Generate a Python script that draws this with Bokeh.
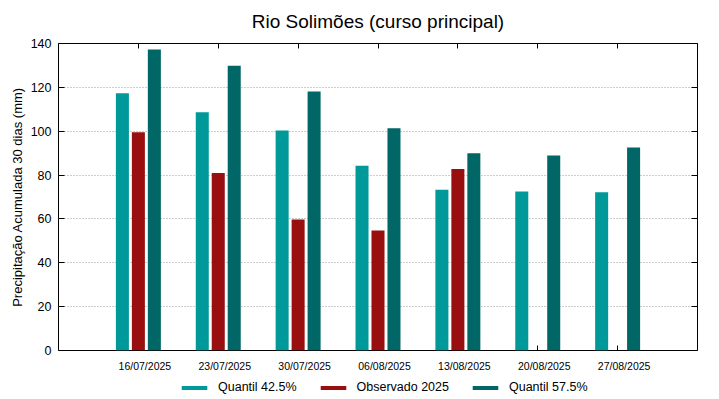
from bokeh.plotting import figure
from bokeh.layouts import column
from bokeh.models import (Range1d, LinearAxis, FixedTicker, Legend, LegendItem,
                          ColumnDataSource, Grid)
from bokeh.transform import dodge
from bokeh.embed import file_html
from bokeh.resources import INLINE

nan = float("nan")

dates = ["16/07/2025", "23/07/2025", "30/07/2025", "06/08/2025",
         "13/08/2025", "20/08/2025", "27/08/2025"]
quantil_425 = [117.3, 108.7, 100.3, 84.2, 73.3, 72.5, 72.2]
observado_2025 = [99.5, 81.0, 59.7, 54.7, 82.8, nan, nan]
quantil_575 = [137.3, 129.8, 118.1, 101.4, 90.0, 88.9, 92.6]
y_ticks = [0, 20, 40, 60, 80, 100, 120, 140]
series_names = ["Quantil 42.5%", "Observado 2025", "Quantil 57.5%"]

FONT = "Liberation Sans"
C_Q425 = "#009999"
C_OBS = "#990f0f"
C_Q575 = "#006666"
colors = [C_Q425, C_OBS, C_Q575]

pos = [i + 1 for i in range(len(dates))]
src = ColumnDataSource(dict(pos=pos, date=dates, q425=quantil_425,
                            obs=observado_2025, q575=quantil_575))

p = figure(x_range=Range1d(0, len(dates) + 1),
           y_range=Range1d(0, 140),
           frame_width=639, frame_height=307,
           min_border_left=58, min_border_right=22,
           min_border_top=43, min_border_bottom=27,
           x_axis_location=None, y_axis_location=None,
           output_backend="svg", toolbar_location=None,
           background_fill_color="white", border_fill_color="white")

p.title.text = "Rio Solimões (curso principal)"
p.title.align = "center"
p.title.vertical_align = "top"
p.title.text_font = FONT
p.title.text_font_size = "19px"
p.title.text_font_style = "normal"
p.title.text_color = "#000000"
p.title.standoff = 20

p.outline_line_color = "#000000"
p.outline_line_alpha = 1.0
p.outline_line_width = 1

# bars
w = 0.163
r1 = p.vbar(x=dodge("pos", -0.2), top="q425", width=w,
            source=src, fill_color=C_Q425, line_color=None)
r2 = p.vbar(x=dodge("pos", 0.0), top="obs", width=w,
            source=src, fill_color=C_OBS, line_color=None)
r3 = p.vbar(x=dodge("pos", 0.2), top="q575", width=w,
            source=src, fill_color=C_Q575, line_color=None)

# left axis
yl = LinearAxis(ticker=FixedTicker(ticks=y_ticks))
yl.axis_line_color = None
yl.major_tick_in = 6
yl.major_tick_out = 0
yl.minor_tick_line_color = None
yl.major_label_standoff = 7
yl.major_label_text_font = FONT
yl.major_label_text_font_size = "12.5px"
yl.major_label_text_color = "#000000"
yl.axis_label = "Precipitação Acumulada 30 dias (mm)"
yl.axis_label_text_font = FONT
yl.axis_label_text_font_size = "13px"
yl.axis_label_text_font_style = "normal"
yl.axis_label_text_color = "#000000"
yl.axis_label_standoff = 3
p.add_layout(yl, "left")

# right axis (ticks only)
yr = LinearAxis(ticker=FixedTicker(ticks=y_ticks),
                major_label_overrides={t: "" for t in y_ticks})
yr.axis_line_color = None
yr.major_tick_in = 6
yr.major_tick_out = 0
yr.minor_tick_line_color = None
yr.major_label_standoff = 0
p.add_layout(yr, "right")

# top axis (ticks only)
xt = LinearAxis(ticker=FixedTicker(ticks=pos),
                major_label_overrides={x: "" for x in pos})
xt.axis_line_color = None
xt.major_tick_in = 5
xt.major_tick_out = 0
xt.minor_tick_line_color = None
xt.major_label_standoff = 0
p.add_layout(xt, "above")

# bottom axis (ticks only, under the bars)
xb = LinearAxis(ticker=FixedTicker(ticks=pos), level="underlay",
                major_label_overrides={x: "" for x in pos})
xb.axis_line_color = None
xb.major_tick_in = 5
xb.major_tick_out = 0
xb.minor_tick_line_color = None
xb.major_label_text_font_size = "1px"
xb.major_label_standoff = 0
p.add_layout(xb, "below")

# bottom labels (slightly offset to the right, as in the original)
shift = 6.5 / 79.875
p.extra_x_ranges = {"lab": Range1d(0 - shift, len(dates) + 1 - shift)}
xlab = LinearAxis(x_range_name="lab", ticker=FixedTicker(ticks=pos),
                  major_label_overrides={x: d for x, d in zip(pos, dates)})
xlab.axis_line_color = None
xlab.major_tick_line_color = None
xlab.minor_tick_line_color = None
xlab.major_tick_in = 0
xlab.major_tick_out = 0
xlab.major_label_standoff = 9
xlab.major_label_text_font = FONT
xlab.major_label_text_font_size = "10.5px"
xlab.major_label_text_color = "#000000"
p.add_layout(xlab, "below")

# grid
p.ygrid.grid_line_color = None
p.xgrid.grid_line_color = None
g = Grid(dimension=1, ticker=FixedTicker(ticks=y_ticks[1:-1]))
g.grid_line_color = "#9a9a9a"
g.grid_line_dash = "1 2"
g.grid_line_width = 1
p.add_layout(g)

# legend strip below the chart
lf = figure(width=719, height=22, x_range=Range1d(0, 1), y_range=Range1d(0, 1),
            min_border=0, x_axis_location=None, y_axis_location=None,
            output_backend="svg", toolbar_location=None,
            background_fill_color="white", border_fill_color="white")
lf.outline_line_color = None
lf.xgrid.grid_line_color = None
lf.ygrid.grid_line_color = None
# zero-size proxy bars, only used to give the legend its swatches
proxies = [lf.vbar(x=[0], top=[0], width=0, fill_color=c, line_color=None)
           for c in colors]
legend = Legend(items=[LegendItem(label=n, renderers=[r])
                       for n, r in zip(series_names, proxies)],
                orientation="horizontal", location=(120, 5))
legend.border_line_color = None
legend.background_fill_alpha = 0
legend.label_text_font = FONT
legend.label_text_font_size = "12.5px"
legend.label_text_color = "#000000"
legend.glyph_width = 32
legend.glyph_height = 5
legend.label_height = 12
legend.label_standoff = 8
legend.spacing = 20
legend.padding = 0
legend.margin = 0
lf.add_layout(legend)

layout = column(p, lf, spacing=0)
open("out.html", "w").write(file_html(layout, INLINE))
